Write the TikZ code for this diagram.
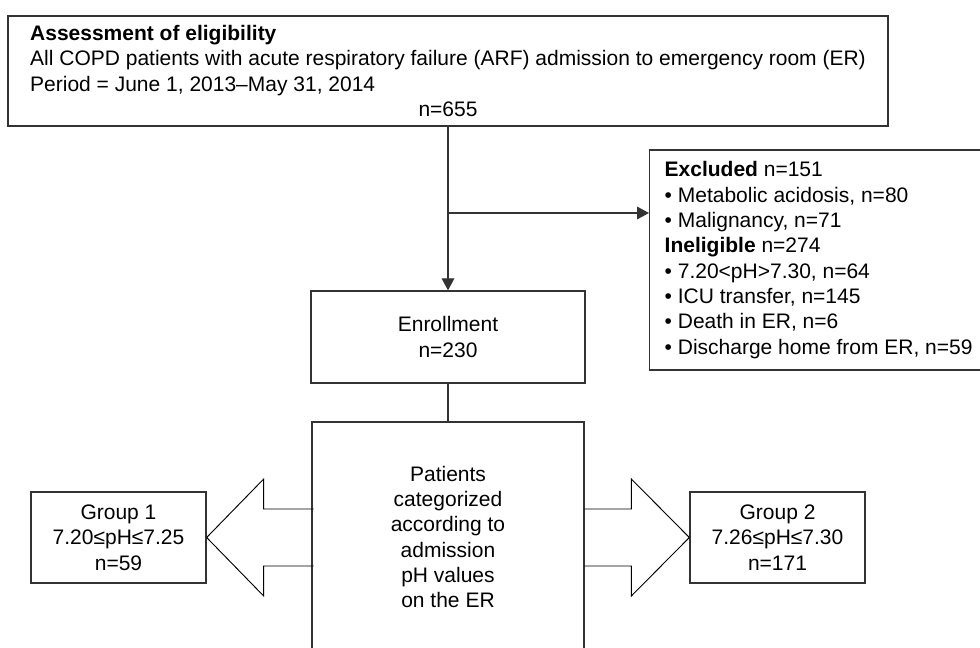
\documentclass[tikz,border=0pt]{standalone}
\usepackage{fontspec}
\setmainfont{Liberation Sans}
\usetikzlibrary{positioning,arrows.meta}

\tikzset{
  box/.style={draw=black!80, line width=1pt, inner sep=0pt, align=center},
  conn/.style={draw=black!80, line width=1pt},
  tip/.style={-{Triangle[length=9pt,width=9.5pt]}},
  fat/.style={draw=black, line width=0.7pt, line join=miter}
}

\begin{document}
\begin{tikzpicture}[x=0.75pt, y=-0.75pt, font=\fontsize{15.75}{19}\selectfont]
        \useasboundingbox (0,0) rectangle (980,648);
        \clip (0,0) rectangle (980,648);
        \node[box, minimum width=660pt, minimum height=82.5pt, align=left] (assess) at (448,71)
            {\textbf{Assessment of eligibility}\\
             All COPD patients with acute respiratory failure (ARF) admission to emergency room (ER)\\
             Period = June 1, 2013–May 31, 2014\\
             \hspace*{\fill}n=655\hspace*{\fill}};
        \node[box, anchor=west, align=left, inner xsep=11.25pt, minimum height=165pt] (excl) at (649,260)
            {\textbf{Excluded} n=151\\
             • Metabolic acidosis, n=80\\
             • Malignancy, n=71\\
             \textbf{Ineligible} n=274\\
             • 7.20<pH>7.30, n=64\\
             • ICU transfer, n=145\\
             • Death in ER, n=6\\
             • Discharge home from ER, n=59};
        \node[box, minimum width=205.5pt, minimum height=69pt] (enrol) at (448,337) {Enrollment\\n=230};
        \node[box, minimum width=204pt, minimum height=172.5pt] (pat) at (448,537)
            {Patients\\categorized\\according to\\admission\\pH values\\on the ER};
        \node[box, minimum width=131.25pt, minimum height=68.25pt] (grp1) at (118.5,537.5) {Group 1\\7.20≤pH≤7.25\\n=59};
        \node[box, minimum width=131.25pt, minimum height=68.25pt] (grp2) at (777.5,537.5) {Group 2\\7.26≤pH≤7.30\\n=171};
        \coordinate (split) at (448,213);
        \draw[conn, tip] (assess) -- (enrol);
        \draw[conn, tip] (split) -- (split -| excl.west);
        \draw[conn] (enrol) -- (pat);
        \draw[fat] (grp1.east) -- ++(57,-58.5) -- ++(0,30) -- ++(50,0) ++(0,57) -- ++(-50,0) -- ++(0,30) -- (grp1.east);
        \draw[fat] (grp2.west) -- ++(-58,-58.5) -- ++(0,30) -- ++(-47,0) ++(0,57) -- ++(47,0) -- ++(0,30) -- (grp2.west);
\end{tikzpicture}
\end{document}
